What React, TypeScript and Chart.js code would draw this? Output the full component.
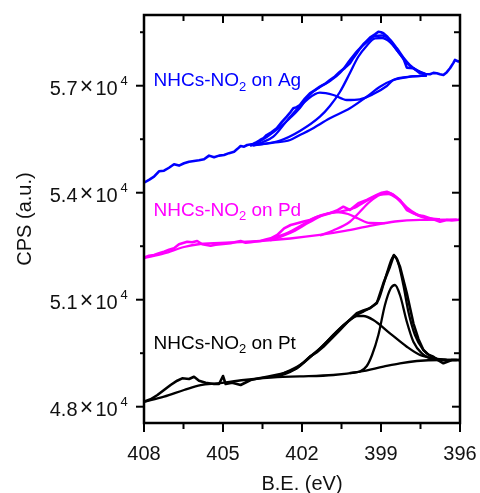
import React, { useEffect, useRef } from "react";
import { Chart, registerables } from "chart.js";
Chart.register(...registerables);

// ---------------- Data (B.E. in eV, CPS) ----------------
// Ag
const agRawE = [408.0, 407.81, 407.62, 407.43, 407.24, 407.05, 406.86, 406.67, 406.48, 406.29, 406.1, 405.91, 405.72, 405.53, 405.34, 405.15, 404.96, 404.77, 404.58, 404.45, 404.33, 404.2, 404.08, 403.86, 403.72, 403.59, 403.46, 403.34, 403.15, 402.96, 402.77, 402.58, 402.45, 402.33, 402.2, 402.08, 401.89, 401.7, 401.51, 401.32, 401.13, 400.94, 400.75, 400.56, 400.37, 400.18, 400.05, 399.92, 399.8, 399.67, 399.54, 399.42, 399.23, 399.1, 399.0, 398.91, 398.78, 398.66, 398.53, 398.4, 398.28, 398.15, 398.02, 397.9, 397.77, 397.64, 397.52, 397.33, 397.14, 397.01, 396.88, 396.76, 396.63, 396.5, 396.38, 396.25, 396.19, 396.1, 396.0];
const agRawCps = [54281, 54360, 54449, 54600, 54617, 54700, 54797, 54760, 54825, 54870, 54889, 54910, 54937, 55040, 54993, 55040, 55058, 55110, 55150, 55230, 55310, 55290, 55338, 55366, 55420, 55478, 55530, 55618, 55700, 55806, 55980, 56132, 56250, 56367, 56400, 56460, 56640, 56788, 56880, 56973, 57050, 57161, 57260, 57393, 57500, 57629, 57780, 57909, 58040, 58162, 58260, 58347, 58440, 58515, 58500, 58470, 58390, 58282, 58140, 58002, 57890, 57769, 57506, 57500, 57489, 57420, 57348, 57330, 57320, 57360, 57348, 57320, 57301, 57380, 57489, 57640, 57722, 57690, 57674];
const agBgE = [403.97, 403.09, 402.45, 402.08, 401.7, 400.94, 400.18, 399.54, 399.04, 398.53, 397.9, 397.26];
const agBgCps = [55318, 55403, 55478, 55618, 55759, 56087, 56367, 56692, 56973, 57161, 57253, 57281];
const agP1E = [403.97, 403.48, 403.09, 402.45, 401.82, 401.32, 400.81, 400.3, 399.8, 399.29, 398.78, 398.53, 397.9, 397.26];
const agP1Cps = [55324, 55422, 55571, 56132, 56600, 56805, 56740, 56600, 56619, 56768, 56993, 57161, 57253, 57281];
const agP2E = [403.86, 402.83, 402.08, 401.32, 400.94, 400.56, 400.18, 399.87, 399.54, 399.23, 398.96, 398.66, 398.4, 398.15, 397.9, 397.64, 397.26];
const agP2Cps = [55324, 55464, 55731, 56132, 56432, 56824, 57357, 57806, 58122, 58330, 58338, 58226, 58002, 57750, 57553, 57427, 57301];
const agEnvE = [403.86, 403.34, 402.83, 402.45, 402.08, 401.7, 401.32, 400.94, 400.56, 400.18, 399.87, 399.54, 399.23, 398.96, 398.66, 398.4, 398.15, 397.9, 397.64, 397.26];
const agEnvCps = [55338, 55562, 55843, 56095, 56375, 56750, 56960, 57130, 57357, 57722, 58002, 58226, 58394, 58408, 58296, 58058, 57792, 57581, 57441, 57315];

// Pd
const pdRawE = [408.0, 407.81, 407.62, 407.43, 407.24, 407.05, 406.86, 406.67, 406.36, 406.17, 405.98, 405.79, 405.47, 405.28, 405.09, 404.9, 404.71, 404.52, 404.33, 404.14, 403.95, 403.76, 403.57, 403.38, 403.19, 402.94, 402.68, 402.43, 402.18, 401.94, 401.7, 401.51, 401.32, 401.13, 400.94, 400.68, 400.43, 400.18, 399.86, 399.54, 399.16, 398.97, 398.78, 398.53, 398.28, 398.02, 397.77, 397.58, 397.39, 397.2, 397.01, 396.76, 396.5, 396.31, 396.12, 396.0];
const pdRawCps = [52178, 52230, 52254, 52300, 52346, 52400, 52442, 52554, 52627, 52610, 52646, 52554, 52514, 52540, 52554, 52570, 52582, 52620, 52646, 52600, 52610, 52630, 52646, 52690, 52722, 52815, 53002, 53095, 53143, 53190, 53235, 53300, 53347, 53380, 53423, 53500, 53608, 53515, 53703, 53796, 53936, 54000, 54029, 53936, 53796, 53515, 53423, 53370, 53347, 53300, 53255, 53187, 53235, 53220, 53235, 53249];
const pdBgE = [408.0, 407.24, 406.48, 405.87, 404.73, 403.59, 402.45, 401.32, 400.37, 399.42, 398.47, 397.52, 396.12];
const pdBgCps = [52170, 52296, 52478, 52562, 52604, 52646, 52716, 52815, 52927, 53067, 53193, 53241, 53249];
const pdP1E = [403.21, 402.45, 401.7, 401.13, 400.71, 400.25, 399.87, 399.42, 398.85];
const pdP1Cps = [52660, 52871, 53179, 53389, 53459, 53403, 53277, 53151, 53150];
const pdP2E = [401.32, 400.82, 400.18, 399.8, 399.42, 399.04, 398.72, 398.4, 398.02, 397.64, 397.26, 396.76];
const pdP2Cps = [52800, 52941, 53187, 53468, 53748, 53936, 53964, 53843, 53563, 53375, 53283, 53255];
const pdEnvE = [403.21, 402.45, 401.7, 401.32, 400.56, 400.05, 399.54, 399.04, 398.72, 398.4, 398.02, 397.64, 397.26, 396.76];
const pdEnvCps = [52688, 52913, 53221, 53361, 53468, 53563, 53776, 53964, 54001, 53871, 53591, 53395, 53291, 53255];

// Pt
const ptRawE = [408.0, 407.75, 407.49, 407.24, 406.99, 406.74, 406.55, 406.29, 406.1, 405.91, 405.66, 405.34, 405.15, 405.0, 404.9, 404.65, 404.33, 403.95, 403.63, 403.32, 403.0, 402.68, 402.45, 402.2, 401.95, 401.7, 401.45, 401.19, 400.87, 400.56, 400.24, 399.92, 399.67, 399.42, 399.16, 398.91, 398.66, 398.51, 398.4, 398.28, 398.02, 397.77, 397.58, 397.39, 397.2, 397.01, 396.82, 396.63, 396.31, 396.06, 396.0];
const ptRawCps = [48140, 48207, 48328, 48468, 48608, 48729, 48796, 48777, 48841, 48729, 48673, 48637, 48637, 48861, 48637, 48673, 48608, 48749, 48796, 48841, 48889, 48937, 49000, 49077, 49230, 49402, 49520, 49682, 49920, 50151, 50400, 50619, 50700, 50759, 50899, 51460, 51926, 52254, 52150, 51926, 51180, 50339, 49900, 49590, 49460, 49402, 49300, 49217, 49309, 49309, 49295];
const ptBgE = [408.0, 407.24, 406.48, 405.85, 405.22, 404.2, 402.94, 402.08, 400.81, 399.8, 398.91, 398.28, 397.64, 396.76, 396.0];
const ptBgCps = [48140, 48280, 48468, 48608, 48656, 48749, 48833, 48850, 48889, 48981, 49122, 49217, 49281, 49309, 49309];
const ptP1E = [402.94, 402.45, 402.08, 401.7, 401.32, 400.94, 400.56, 400.18, 399.92, 399.67, 399.29, 398.66, 398.02, 397.52, 397.01, 396.5];
const ptP1Cps = [48847, 48973, 49141, 49380, 49632, 49912, 50193, 50431, 50543, 50543, 50431, 50058, 49682, 49450, 49357, 49309];
const ptP2E = [400.18, 399.8, 399.54, 399.34, 399.1, 398.85, 398.63, 398.47, 398.28, 398.02, 397.77, 397.45, 397.01, 396.5];
const ptP2Cps = [48945, 48987, 49141, 49450, 50010, 50852, 51320, 51412, 51132, 50383, 49823, 49497, 49337, 49309];
const ptEnvE = [402.94, 402.08, 401.7, 401.32, 400.94, 400.56, 400.18, 399.92, 399.67, 399.35, 399.1, 398.91, 398.72, 398.51, 398.34, 398.15, 397.96, 397.71, 397.39, 397.07, 396.63, 396.12];
const ptEnvCps = [48861, 49169, 49402, 49638, 49918, 50198, 50431, 50571, 50664, 50804, 50992, 51412, 51881, 52234, 52021, 51412, 50664, 50010, 49590, 49402, 49309, 49309];

// Axes
const xMin = 396;
const xMax = 408;
const yMin = 47543;
const yMax = 58983;
const xMajorTicks = [408, 405, 402, 399, 396];
const xMinorTicks = [406.5, 403.5, 400.5, 397.5];
const yMajorTicks = [48000, 51000, 54000, 57000];
const yMajorLabels = ["4.8", "5.1", "5.4", "5.7"];
const yMinorTicks = [49500, 52500, 55500, 58500];
const xTitle = "B.E. (eV)";
const yTitle = "CPS (a.u.)";
const seriesNames = ["Ag", "Pd", "Pt"];

const BLUE = "#0000ff";
const MAGENTA = "#ff00ff";
const BLACK = "#000000";
const FONT = '"Liberation Sans", Arial, Helvetica, sans-serif';

const pts = (e: number[], v: number[]) => e.map((x, i) => ({ x, y: v[i] }));

function raw(e: number[], v: number[], color: string) {
  return { data: pts(e, v), borderColor: color, borderWidth: 2.6, pointRadius: 0, tension: 0, fill: false, borderJoinStyle: "round" };
}
function fit(e: number[], v: number[], color: string) {
  return {
    data: pts(e, v),
    borderColor: color,
    borderWidth: 2.3,
    pointRadius: 0,
    cubicInterpolationMode: "monotone",
    fill: false,
  };
}

const framePlugin = {
  id: "xpsFrame",
  afterDraw(chart: any) {
    const ctx: CanvasRenderingContext2D = chart.ctx;
    const xs = chart.scales.x;
    const ys = chart.scales.y;
    const { left, right, top, bottom } = chart.chartArea;
    ctx.save();
    ctx.strokeStyle = "#000";
    ctx.lineWidth = 2.5;
    ctx.strokeRect(left, top, right - left, bottom - top);
    const line = (x1: number, y1: number, x2: number, y2: number) => {
      ctx.beginPath();
      ctx.moveTo(x1, y1);
      ctx.lineTo(x2, y2);
      ctx.stroke();
    };
    ctx.lineWidth = 2;
    xMajorTicks.forEach((t) => {
      const px = xs.getPixelForValue(t);
      line(px, bottom, px, bottom + 9);
      line(px, top, px, top + 8);
    });
    xMinorTicks.forEach((t) => {
      const px = xs.getPixelForValue(t);
      line(px, bottom, px, bottom + 6);
      line(px, top, px, top + 6);
    });
    yMajorTicks.forEach((t) => {
      const py = ys.getPixelForValue(t);
      line(left - 8, py, left, py);
      line(right - 8, py, right, py);
    });
    yMinorTicks.forEach((t) => {
      const py = ys.getPixelForValue(t);
      line(left - 4, py, left, py);
      line(right - 6, py, right, py);
    });

    ctx.fillStyle = "#111";
    ctx.font = `20px ${FONT}`;
    ctx.textAlign = "center";
    ctx.textBaseline = "alphabetic";
    xMajorTicks.forEach((t) => {
      ctx.fillText(String(t), xs.getPixelForValue(t), bottom + 37);
    });
    ctx.fillText(xTitle, (left + right) / 2, bottom + 67);

    yMajorTicks.forEach((t, i) => {
      const py = ys.getPixelForValue(t);
      const base = py + 9;
      ctx.font = `20px ${FONT}`;
      ctx.textAlign = "right";
      ctx.fillText(yMajorLabels[i], left - 66.5, base);
      ctx.textAlign = "center";
      ctx.font = `23px ${FONT}`;
      ctx.fillText("\u00d7", left - 57.5, base - 0.5);
      ctx.font = `20px ${FONT}`;
      ctx.textAlign = "left";
      ctx.fillText("10", left - 48.5, base);
      ctx.font = `13px ${FONT}`;
      ctx.fillText("4", left - 23.5, py - 0.5);
    });

    ctx.save();
    ctx.translate(31, (top + bottom) / 2);
    ctx.rotate(-Math.PI / 2);
    ctx.font = `20px ${FONT}`;
    ctx.textAlign = "center";
    ctx.textBaseline = "alphabetic";
    ctx.fillText(yTitle, 0, 0);
    ctx.restore();

    const label = (name: string, color: string, value: number, dy: number) => {
      const base = ys.getPixelForValue(value) + dy;
      let x = left + 9.5;
      ctx.fillStyle = color;
      ctx.textAlign = "left";
      ctx.font = `19px ${FONT}`;
      ctx.fillText("NHCs-NO", x, base);
      x += ctx.measureText("NHCs-NO").width;
      ctx.font = `13px ${FONT}`;
      ctx.fillText("2", x, base + 4.5);
      x += ctx.measureText("2").width;
      ctx.font = `19px ${FONT}`;
      ctx.fillText(" on " + name, x, base);
    };
    label(seriesNames[0], BLUE, 57000, 0.5);
    label(seriesNames[1], MAGENTA, 54000, 23);
    label(seriesNames[2], BLACK, 51000, 49);
    ctx.restore();
  },
};

export default function App() {
  const ref = useRef<HTMLCanvasElement | null>(null);
  useEffect(() => {
    if (!ref.current) return;
    const chart = new Chart(ref.current, {
      type: "line",
      data: {
        datasets: [
          raw(agRawE, agRawCps, BLUE),
          fit(agBgE, agBgCps, BLUE),
          fit(agP1E, agP1Cps, BLUE),
          fit(agP2E, agP2Cps, BLUE),
          fit(agEnvE, agEnvCps, BLUE),
          raw(pdRawE, pdRawCps, MAGENTA),
          fit(pdBgE, pdBgCps, MAGENTA),
          fit(pdP1E, pdP1Cps, MAGENTA),
          fit(pdP2E, pdP2Cps, MAGENTA),
          fit(pdEnvE, pdEnvCps, MAGENTA),
          raw(ptRawE, ptRawCps, BLACK),
          fit(ptBgE, ptBgCps, BLACK),
          fit(ptP1E, ptP1Cps, BLACK),
          fit(ptP2E, ptP2Cps, BLACK),
          fit(ptEnvE, ptEnvCps, BLACK),
        ] as any,
      },
      options: {
        responsive: false,
        animation: false,
        devicePixelRatio: 1,
        events: [],
        layout: { padding: { left: 0, right: 20, top: 15, bottom: 0 } },
        plugins: { legend: { display: false }, tooltip: { enabled: false }, title: { display: false } },
        scales: {
          x: {
            type: "linear",
            reverse: true,
            min: xMin,
            max: xMax,
            grid: { display: false, drawTicks: false },
            border: { display: false },
            ticks: { display: false },
            afterFit: (s: any) => {
              s.height = 70;
            },
          },
          y: {
            type: "linear",
            min: yMin,
            max: yMax,
            grid: { display: false, drawTicks: false },
            border: { display: false },
            ticks: { display: false },
            afterFit: (s: any) => {
              s.width = 144;
            },
          },
        },
      } as any,
      plugins: [framePlugin],
    });
    return () => chart.destroy();
  }, []);
  return (
    <div style={{ position: "absolute", left: 0, top: 0, width: 480, height: 493, background: "#fff" }}>
      <canvas ref={ref} width={480} height={493} style={{ display: "block" }} />
    </div>
  );
}
